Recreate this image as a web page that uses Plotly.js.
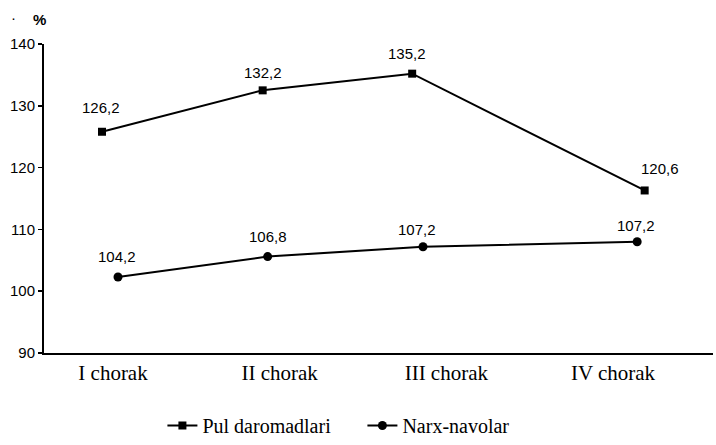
<!DOCTYPE html>
<html><head><meta charset="utf-8">
<script src="https://cdn.plot.ly/plotly-3.0.1.min.js"></script>
<style>html,body{margin:0;padding:0;background:#fff}#chart{width:716px;height:445px}</style>
</head><body><div id="chart"></div>
<script>
// Data
const categories = ['I chorak', 'II chorak', 'III chorak', 'IV chorak'];
const categoryPos = [0, 1, 2, 3];
const pulName = 'Pul daromadlari';
const pulX = [-0.066, 0.898, 1.795, 3.19];
const pulY = [125.8, 132.5, 135.2, 116.3];
const pulLabels = ['126,2', '132,2', '135,2', '120,6'];
const narxName = 'Narx-navolar';
const narxX = [0.03, 0.928, 1.86, 3.145];
const narxY = [102.3, 105.6, 107.2, 108.0];
const narxLabels = ['104,2', '106,8', '107,2', '107,2'];
const yTicks = [90, 100, 110, 120, 130, 140];

// Styles
const pulShift = [[-1, 24], [0, 18], [-5, 20], [15, 22]];
const narxShift = [[-1, 20], [0, 20], [-6, 17], [-1, 16]];
const labelFont = {family: 'Liberation Sans, Arial, sans-serif', size: 15, color: '#000'};

const traces = [
  {x: pulX, y: pulY, name: pulName, type: 'scatter', mode: 'lines+markers',
   line: {color: '#000', width: 2}, marker: {symbol: 'square', size: 8, color: '#000'}},
  {x: narxX, y: narxY, name: narxName, type: 'scatter', mode: 'lines+markers',
   line: {color: '#000', width: 2}, marker: {symbol: 'circle', size: 9, color: '#000'}}
];

const annotations = [];
pulX.forEach((x, i) => annotations.push({x: x, y: pulY[i], text: pulLabels[i], showarrow: false,
  xanchor: 'center', yanchor: 'middle', xshift: pulShift[i][0], yshift: pulShift[i][1], font: labelFont}));
narxX.forEach((x, i) => annotations.push({x: x, y: narxY[i], text: narxLabels[i], showarrow: false,
  xanchor: 'center', yanchor: 'middle', xshift: narxShift[i][0], yshift: narxShift[i][1], font: labelFont}));
annotations.push({xref: 'paper', yref: 'paper', x: -0.006, y: 1.078, text: '<b>%</b>', showarrow: false,
  xanchor: 'center', yanchor: 'middle', font: {family: 'Liberation Sans, Arial, sans-serif', size: 15, color: '#000'}});
annotations.push({xref: 'paper', yref: 'paper', x: -0.046, y: 1.087, text: '·', showarrow: false,
  xanchor: 'center', yanchor: 'middle', font: {family: 'Liberation Sans, Arial, sans-serif', size: 15, color: '#000'}});

const layout = {
  width: 716, height: 445,
  margin: {l: 44, r: 3, t: 44, b: 92},
  paper_bgcolor: '#fff', plot_bgcolor: '#fff',
  showlegend: true,
  legend: {orientation: 'h', x: 0.177, xanchor: 'left', yref: 'container', y: 0, yanchor: 'bottom',
    font: {family: 'Liberation Serif, Times New Roman, serif', size: 20, color: '#000'},
    entrywidth: 155, entrywidthmode: 'pixels', traceorder: 'normal'},
  xaxis: {range: [-0.414, 3.6], tickmode: 'array', tickvals: categoryPos, ticktext: categories,
    showline: true, linecolor: '#000', linewidth: 2, showgrid: false, zeroline: false, ticks: '',
    ticklabelstandoff: 0,
    tickfont: {family: 'Liberation Serif, Times New Roman, serif', size: 21, color: '#000'}},
  yaxis: {range: [90, 140], tickmode: 'array', tickvals: yTicks,
    showline: true, linecolor: '#000', linewidth: 2, showgrid: false, zeroline: false,
    ticks: 'outside', ticklen: 4, tickwidth: 1.5, tickcolor: '#000',
    tickfont: {family: 'Liberation Sans, Arial, sans-serif', size: 15, color: '#000'}},
  annotations: annotations
};

Plotly.newPlot('chart', traces, layout, {displayModeBar: false, staticPlot: true});
</script>
</body></html>
